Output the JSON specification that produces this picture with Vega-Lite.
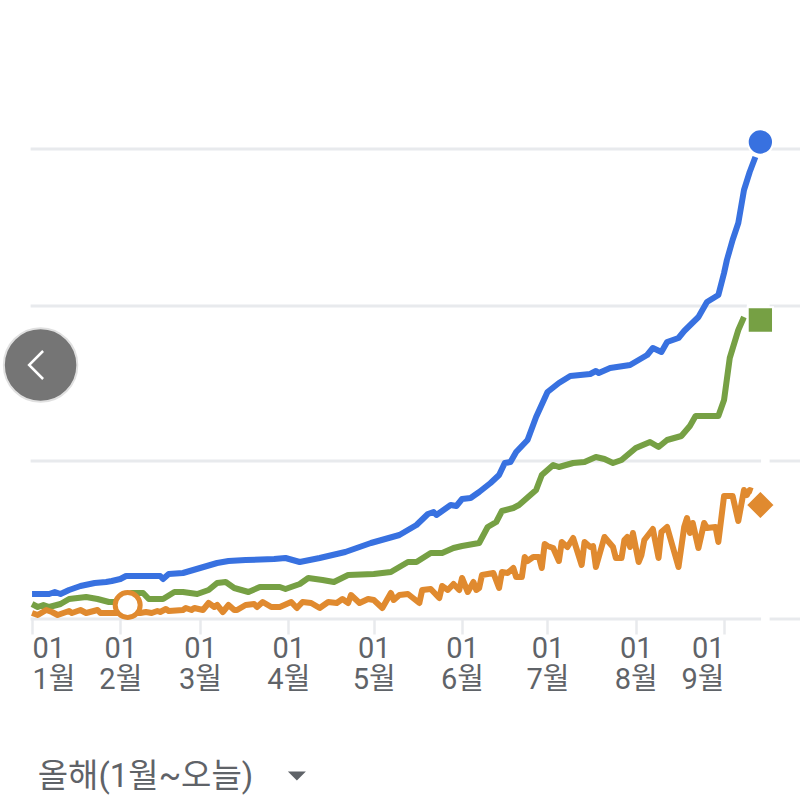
{
  "$schema": "https://vega.github.io/schema/vega-lite/v6.json",
  "width": 800,
  "height": 802,
  "padding": 0,
  "autosize": {"type": "none"},
  "background": "white",
  "view": {"stroke": null},
  "datasets": {
    "grid": [
      {"date": "2020-12-31T12:00:00Z", "date2": "2021-09-14", "v": 0},
      {"date": "2021-09-17", "date2": "2021-09-27T16:00:00Z", "v": 0},
      {"date": "2020-12-31T12:00:00Z", "date2": "2021-09-14", "v": 158},
      {"date": "2021-09-17", "date2": "2021-09-27T16:00:00Z", "v": 158},
      {"date": "2020-12-31T12:00:00Z", "date2": "2021-09-09", "v": 313},
      {"date": "2021-09-17", "date2": "2021-09-27T16:00:00Z", "v": 313},
      {"date": "2020-12-31T12:00:00Z", "date2": "2021-09-27T16:00:00Z", "v": 470}
    ],
    "lines": [
      {"series": "A", "date": "2021-01-01", "v": 25},
      {"series": "A", "date": "2021-01-07", "v": 25},
      {"series": "A", "date": "2021-01-09", "v": 27},
      {"series": "A", "date": "2021-01-11", "v": 25},
      {"series": "A", "date": "2021-01-14", "v": 29},
      {"series": "A", "date": "2021-01-18", "v": 33},
      {"series": "A", "date": "2021-01-23", "v": 36},
      {"series": "A", "date": "2021-01-27", "v": 37},
      {"series": "A", "date": "2021-01-29", "v": 38},
      {"series": "A", "date": "2021-02-01", "v": 40},
      {"series": "A", "date": "2021-02-03", "v": 43},
      {"series": "A", "date": "2021-02-15", "v": 43},
      {"series": "A", "date": "2021-02-16", "v": 40},
      {"series": "A", "date": "2021-02-18", "v": 45},
      {"series": "A", "date": "2021-02-23", "v": 46},
      {"series": "A", "date": "2021-03-01", "v": 51},
      {"series": "A", "date": "2021-03-07", "v": 56},
      {"series": "A", "date": "2021-03-11", "v": 58},
      {"series": "A", "date": "2021-03-17", "v": 59},
      {"series": "A", "date": "2021-03-27", "v": 60},
      {"series": "A", "date": "2021-03-31", "v": 61},
      {"series": "A", "date": "2021-04-05", "v": 57},
      {"series": "A", "date": "2021-04-12", "v": 61},
      {"series": "A", "date": "2021-04-21", "v": 67},
      {"series": "A", "date": "2021-04-30", "v": 76},
      {"series": "A", "date": "2021-05-10", "v": 84},
      {"series": "A", "date": "2021-05-16", "v": 94},
      {"series": "A", "date": "2021-05-20", "v": 105},
      {"series": "A", "date": "2021-05-22", "v": 107},
      {"series": "A", "date": "2021-05-23", "v": 104},
      {"series": "A", "date": "2021-05-28", "v": 114},
      {"series": "A", "date": "2021-05-30", "v": 113},
      {"series": "A", "date": "2021-06-01", "v": 120},
      {"series": "A", "date": "2021-06-04", "v": 121},
      {"series": "A", "date": "2021-06-07", "v": 127},
      {"series": "A", "date": "2021-06-11", "v": 136},
      {"series": "A", "date": "2021-06-14", "v": 144},
      {"series": "A", "date": "2021-06-16", "v": 156},
      {"series": "A", "date": "2021-06-18", "v": 157},
      {"series": "A", "date": "2021-06-20", "v": 167},
      {"series": "A", "date": "2021-06-24", "v": 179},
      {"series": "A", "date": "2021-06-27", "v": 202},
      {"series": "A", "date": "2021-07-01", "v": 227},
      {"series": "A", "date": "2021-07-05", "v": 236},
      {"series": "A", "date": "2021-07-09", "v": 243},
      {"series": "A", "date": "2021-07-16", "v": 245},
      {"series": "A", "date": "2021-07-18", "v": 248},
      {"series": "A", "date": "2021-07-19", "v": 246},
      {"series": "A", "date": "2021-07-23", "v": 251},
      {"series": "A", "date": "2021-07-30", "v": 254},
      {"series": "A", "date": "2021-08-05", "v": 264},
      {"series": "A", "date": "2021-08-07", "v": 271},
      {"series": "A", "date": "2021-08-10", "v": 267},
      {"series": "A", "date": "2021-08-12", "v": 277},
      {"series": "A", "date": "2021-08-16", "v": 281},
      {"series": "A", "date": "2021-08-18", "v": 288},
      {"series": "A", "date": "2021-08-23", "v": 302},
      {"series": "A", "date": "2021-08-26", "v": 317},
      {"series": "A", "date": "2021-08-30", "v": 324},
      {"series": "A", "date": "2021-09-01", "v": 346},
      {"series": "A", "date": "2021-09-02", "v": 359},
      {"series": "A", "date": "2021-09-04", "v": 379},
      {"series": "A", "date": "2021-09-06", "v": 396},
      {"series": "A", "date": "2021-09-08", "v": 429},
      {"series": "A", "date": "2021-09-10", "v": 447},
      {"series": "A", "date": "2021-09-12", "v": 462},
      {"series": "B", "date": "2021-01-01", "v": 15},
      {"series": "B", "date": "2021-01-03", "v": 12},
      {"series": "B", "date": "2021-01-05", "v": 14},
      {"series": "B", "date": "2021-01-07", "v": 12},
      {"series": "B", "date": "2021-01-11", "v": 15},
      {"series": "B", "date": "2021-01-14", "v": 20},
      {"series": "B", "date": "2021-01-20", "v": 22},
      {"series": "B", "date": "2021-01-24", "v": 20},
      {"series": "B", "date": "2021-01-28", "v": 17},
      {"series": "B", "date": "2021-01-30", "v": 17},
      {"series": "B", "date": "2021-02-02", "v": 22},
      {"series": "B", "date": "2021-02-05", "v": 26},
      {"series": "B", "date": "2021-02-09", "v": 26},
      {"series": "B", "date": "2021-02-11", "v": 20},
      {"series": "B", "date": "2021-02-16", "v": 20},
      {"series": "B", "date": "2021-02-20", "v": 27},
      {"series": "B", "date": "2021-02-23", "v": 27},
      {"series": "B", "date": "2021-02-28", "v": 25},
      {"series": "B", "date": "2021-03-04", "v": 29},
      {"series": "B", "date": "2021-03-07", "v": 36},
      {"series": "B", "date": "2021-03-10", "v": 37},
      {"series": "B", "date": "2021-03-13", "v": 31},
      {"series": "B", "date": "2021-03-18", "v": 27},
      {"series": "B", "date": "2021-03-22", "v": 32},
      {"series": "B", "date": "2021-03-29", "v": 32},
      {"series": "B", "date": "2021-03-31", "v": 30},
      {"series": "B", "date": "2021-04-05", "v": 35},
      {"series": "B", "date": "2021-04-08", "v": 41},
      {"series": "B", "date": "2021-04-13", "v": 39},
      {"series": "B", "date": "2021-04-17", "v": 37},
      {"series": "B", "date": "2021-04-22", "v": 44},
      {"series": "B", "date": "2021-05-01", "v": 45},
      {"series": "B", "date": "2021-05-07", "v": 47},
      {"series": "B", "date": "2021-05-10", "v": 52},
      {"series": "B", "date": "2021-05-13", "v": 57},
      {"series": "B", "date": "2021-05-16", "v": 57},
      {"series": "B", "date": "2021-05-21", "v": 66},
      {"series": "B", "date": "2021-05-25", "v": 66},
      {"series": "B", "date": "2021-05-29", "v": 71},
      {"series": "B", "date": "2021-06-01", "v": 73},
      {"series": "B", "date": "2021-06-07", "v": 76},
      {"series": "B", "date": "2021-06-10", "v": 92},
      {"series": "B", "date": "2021-06-13", "v": 97},
      {"series": "B", "date": "2021-06-15", "v": 108},
      {"series": "B", "date": "2021-06-19", "v": 111},
      {"series": "B", "date": "2021-06-21", "v": 114},
      {"series": "B", "date": "2021-06-27", "v": 129},
      {"series": "B", "date": "2021-06-29", "v": 144},
      {"series": "B", "date": "2021-07-03", "v": 154},
      {"series": "B", "date": "2021-07-05", "v": 152},
      {"series": "B", "date": "2021-07-10", "v": 156},
      {"series": "B", "date": "2021-07-14", "v": 157},
      {"series": "B", "date": "2021-07-18", "v": 162},
      {"series": "B", "date": "2021-07-21", "v": 160},
      {"series": "B", "date": "2021-07-24", "v": 156},
      {"series": "B", "date": "2021-07-27", "v": 159},
      {"series": "B", "date": "2021-08-01", "v": 171},
      {"series": "B", "date": "2021-08-06", "v": 177},
      {"series": "B", "date": "2021-08-09", "v": 172},
      {"series": "B", "date": "2021-08-12", "v": 179},
      {"series": "B", "date": "2021-08-17", "v": 183},
      {"series": "B", "date": "2021-08-20", "v": 193},
      {"series": "B", "date": "2021-08-22", "v": 203},
      {"series": "B", "date": "2021-08-30", "v": 203},
      {"series": "B", "date": "2021-09-01", "v": 219},
      {"series": "B", "date": "2021-09-03", "v": 261},
      {"series": "B", "date": "2021-09-06", "v": 289},
      {"series": "B", "date": "2021-09-08", "v": 302},
      {"series": "C", "date": "2021-01-01", "v": 6},
      {"series": "C", "date": "2021-01-03", "v": 4},
      {"series": "C", "date": "2021-01-06", "v": 9},
      {"series": "C", "date": "2021-01-08", "v": 7},
      {"series": "C", "date": "2021-01-10", "v": 4},
      {"series": "C", "date": "2021-01-14", "v": 8},
      {"series": "C", "date": "2021-01-15", "v": 6},
      {"series": "C", "date": "2021-01-18", "v": 9},
      {"series": "C", "date": "2021-01-20", "v": 6},
      {"series": "C", "date": "2021-01-24", "v": 9},
      {"series": "C", "date": "2021-01-25", "v": 6},
      {"series": "C", "date": "2021-01-30", "v": 6},
      {"series": "C", "date": "2021-02-08", "v": 6},
      {"series": "C", "date": "2021-02-10", "v": 7},
      {"series": "C", "date": "2021-02-12", "v": 6},
      {"series": "C", "date": "2021-02-14", "v": 8},
      {"series": "C", "date": "2021-02-15", "v": 7},
      {"series": "C", "date": "2021-02-17", "v": 10},
      {"series": "C", "date": "2021-02-18", "v": 8},
      {"series": "C", "date": "2021-02-23", "v": 9},
      {"series": "C", "date": "2021-02-24", "v": 11},
      {"series": "C", "date": "2021-02-26", "v": 9},
      {"series": "C", "date": "2021-02-27", "v": 11},
      {"series": "C", "date": "2021-03-02", "v": 9},
      {"series": "C", "date": "2021-03-04", "v": 16},
      {"series": "C", "date": "2021-03-06", "v": 12},
      {"series": "C", "date": "2021-03-07", "v": 14},
      {"series": "C", "date": "2021-03-09", "v": 7},
      {"series": "C", "date": "2021-03-11", "v": 14},
      {"series": "C", "date": "2021-03-13", "v": 9},
      {"series": "C", "date": "2021-03-14", "v": 9},
      {"series": "C", "date": "2021-03-17", "v": 14},
      {"series": "C", "date": "2021-03-20", "v": 15},
      {"series": "C", "date": "2021-03-21", "v": 12},
      {"series": "C", "date": "2021-03-23", "v": 17},
      {"series": "C", "date": "2021-03-26", "v": 12},
      {"series": "C", "date": "2021-03-29", "v": 12},
      {"series": "C", "date": "2021-04-02", "v": 17},
      {"series": "C", "date": "2021-04-04", "v": 11},
      {"series": "C", "date": "2021-04-06", "v": 17},
      {"series": "C", "date": "2021-04-09", "v": 16},
      {"series": "C", "date": "2021-04-12", "v": 11},
      {"series": "C", "date": "2021-04-15", "v": 17},
      {"series": "C", "date": "2021-04-18", "v": 16},
      {"series": "C", "date": "2021-04-20", "v": 20},
      {"series": "C", "date": "2021-04-22", "v": 16},
      {"series": "C", "date": "2021-04-23", "v": 24},
      {"series": "C", "date": "2021-04-26", "v": 16},
      {"series": "C", "date": "2021-04-29", "v": 20},
      {"series": "C", "date": "2021-05-01", "v": 19},
      {"series": "C", "date": "2021-05-04", "v": 11},
      {"series": "C", "date": "2021-05-07", "v": 26},
      {"series": "C", "date": "2021-05-08", "v": 19},
      {"series": "C", "date": "2021-05-10", "v": 24},
      {"series": "C", "date": "2021-05-13", "v": 25},
      {"series": "C", "date": "2021-05-17", "v": 16},
      {"series": "C", "date": "2021-05-18", "v": 29},
      {"series": "C", "date": "2021-05-21", "v": 30},
      {"series": "C", "date": "2021-05-24", "v": 21},
      {"series": "C", "date": "2021-05-25", "v": 33},
      {"series": "C", "date": "2021-05-27", "v": 29},
      {"series": "C", "date": "2021-05-29", "v": 35},
      {"series": "C", "date": "2021-05-31", "v": 29},
      {"series": "C", "date": "2021-06-01", "v": 41},
      {"series": "C", "date": "2021-06-03", "v": 27},
      {"series": "C", "date": "2021-06-05", "v": 37},
      {"series": "C", "date": "2021-06-06", "v": 29},
      {"series": "C", "date": "2021-06-07", "v": 31},
      {"series": "C", "date": "2021-06-08", "v": 44},
      {"series": "C", "date": "2021-06-12", "v": 46},
      {"series": "C", "date": "2021-06-14", "v": 31},
      {"series": "C", "date": "2021-06-15", "v": 47},
      {"series": "C", "date": "2021-06-17", "v": 46},
      {"series": "C", "date": "2021-06-19", "v": 51},
      {"series": "C", "date": "2021-06-20", "v": 42},
      {"series": "C", "date": "2021-06-22", "v": 42},
      {"series": "C", "date": "2021-06-23", "v": 62},
      {"series": "C", "date": "2021-06-24", "v": 58},
      {"series": "C", "date": "2021-06-26", "v": 62},
      {"series": "C", "date": "2021-06-28", "v": 62},
      {"series": "C", "date": "2021-06-29", "v": 51},
      {"series": "C", "date": "2021-06-30", "v": 75},
      {"series": "C", "date": "2021-07-01", "v": 73},
      {"series": "C", "date": "2021-07-03", "v": 71},
      {"series": "C", "date": "2021-07-05", "v": 58},
      {"series": "C", "date": "2021-07-06", "v": 77},
      {"series": "C", "date": "2021-07-08", "v": 72},
      {"series": "C", "date": "2021-07-10", "v": 81},
      {"series": "C", "date": "2021-07-13", "v": 54},
      {"series": "C", "date": "2021-07-14", "v": 77},
      {"series": "C", "date": "2021-07-16", "v": 72},
      {"series": "C", "date": "2021-07-17", "v": 73},
      {"series": "C", "date": "2021-07-18", "v": 52},
      {"series": "C", "date": "2021-07-21", "v": 82},
      {"series": "C", "date": "2021-07-24", "v": 72},
      {"series": "C", "date": "2021-07-25", "v": 61},
      {"series": "C", "date": "2021-07-27", "v": 61},
      {"series": "C", "date": "2021-07-28", "v": 79},
      {"series": "C", "date": "2021-07-29", "v": 82},
      {"series": "C", "date": "2021-07-30", "v": 72},
      {"series": "C", "date": "2021-07-31", "v": 86},
      {"series": "C", "date": "2021-08-02", "v": 57},
      {"series": "C", "date": "2021-08-03", "v": 64},
      {"series": "C", "date": "2021-08-04", "v": 79},
      {"series": "C", "date": "2021-08-07", "v": 90},
      {"series": "C", "date": "2021-08-09", "v": 61},
      {"series": "C", "date": "2021-08-10", "v": 87},
      {"series": "C", "date": "2021-08-12", "v": 92},
      {"series": "C", "date": "2021-08-16", "v": 52},
      {"series": "C", "date": "2021-08-18", "v": 92},
      {"series": "C", "date": "2021-08-19", "v": 101},
      {"series": "C", "date": "2021-08-20", "v": 86},
      {"series": "C", "date": "2021-08-21", "v": 96},
      {"series": "C", "date": "2021-08-23", "v": 71},
      {"series": "C", "date": "2021-08-25", "v": 96},
      {"series": "C", "date": "2021-08-26", "v": 91},
      {"series": "C", "date": "2021-08-29", "v": 92},
      {"series": "C", "date": "2021-08-30", "v": 77},
      {"series": "C", "date": "2021-09-01", "v": 123},
      {"series": "C", "date": "2021-09-04", "v": 123},
      {"series": "C", "date": "2021-09-06", "v": 98},
      {"series": "C", "date": "2021-09-08", "v": 129},
      {"series": "C", "date": "2021-09-09", "v": 124},
      {"series": "C", "date": "2021-09-10", "v": 129},
      {"series": "C", "date": "2021-09-11", "v": 128}
    ]
  },
  "encoding": {
    "x": {
      "field": "date",
      "type": "temporal",
      "title": null,
      "scale": {"type": "utc", "domain": ["2020-12-20T18:00:00Z", "2021-09-27T16:00:00Z"], "nice": false},
      "axis": {
        "orient": "bottom",
        "offset": -183,
        "values": ["2021-01-01", "2021-02-01", "2021-03-01", "2021-04-01", "2021-05-01", "2021-06-01", "2021-07-01", "2021-08-01", "2021-09-01"],
        "labelExpr": "[utcFormat(datum.value, '%d'), (utcmonth(datum.value) + 1) + '월']",
        "labelAlign": {
          "condition": [
            {"test": "utcmonth(datum.value) === 0", "value": "left"},
            {"test": "utcmonth(datum.value) === 8", "value": "right"}
          ],
          "value": "center"
        },
        "labelFont": "Roboto, 'Noto Sans CJK KR'",
        "labelFontSize": 29,
        "labelLineHeight": 31,
        "labelColor": "#5f6368",
        "labelPadding": 0,
        "labelOverlap": false,
        "labelFlush": false,
        "domain": false,
        "grid": false,
        "ticks": true,
        "tickColor": "#e8eaed",
        "tickWidth": 2.5,
        "tickSize": 15
      }
    },
    "y": {
      "field": "v",
      "type": "quantitative",
      "scale": {"domain": [-183, 619], "nice": false, "zero": false},
      "axis": null
    }
  },
  "layer": [
    {
      "data": {"name": "grid"},
      "mark": {"type": "rule", "color": "#e8eaed", "strokeWidth": 3},
      "encoding": {"x2": {"field": "date2"}}
    },
    {
      "data": {"name": "lines"},
      "mark": {"type": "line", "strokeWidth": 6, "strokeJoin": "round"},
      "encoding": {
        "color": {
          "field": "series",
          "type": "nominal",
          "scale": {"domain": ["A", "B", "C"], "range": ["#3871e0", "#76a044", "#e08a2f"]},
          "legend": null
        },
        "order": {"field": "date", "type": "temporal"}
      }
    },
    {
      "data": {"values": [{"date": "2021-09-13T18:00:00Z", "v": 477}]},
      "mark": {"type": "point", "shape": "circle", "filled": true, "fill": "#3871e0", "stroke": "white", "strokeWidth": 2, "size": 640, "opacity": 1}
    },
    {
      "data": {"values": [{"date": "2021-09-13T18:00:00Z", "v": 299}]},
      "mark": {"type": "point", "shape": "square", "filled": true, "fill": "#76a044", "stroke": "white", "strokeWidth": 2, "size": 640, "opacity": 1}
    },
    {
      "data": {"values": [{"date": "2021-09-13T18:00:00Z", "v": 114}]},
      "mark": {"type": "point", "shape": "M0,-1L1,0L0,1L-1,0Z", "filled": true, "fill": "#e08a2f", "stroke": "white", "strokeWidth": 2, "size": 841, "opacity": 1}
    },
    {
      "data": {"values": [{"date": "2021-02-03T14:00:00Z", "v": 14}]},
      "mark": {"type": "point", "shape": "circle", "filled": true, "fill": "white", "stroke": "#e08a2f", "strokeWidth": 5, "size": 625, "opacity": 1}
    },
    {
      "data": {"values": [{"date": "2021-01-04", "v": 254}]},
      "mark": {"type": "point", "shape": "circle", "filled": true, "fill": "#757575", "stroke": "#e0e0e0", "strokeWidth": 2, "size": 5400, "opacity": 1}
    },
    {
      "data": {"values": [{"date": "2021-01-04", "v": 254}]},
      "mark": {"type": "point", "shape": "M0.18,-1L-0.82,0L0.18,1", "filled": false, "stroke": "white", "strokeWidth": 2.5, "size": 784, "opacity": 1}
    },
    {
      "data": {"values": [{"date": "2021-01-03", "v": -158, "label": "올해(1월~오늘)"}]},
      "mark": {"type": "text", "align": "left", "baseline": "middle", "font": "Roboto, 'Noto Sans CJK KR'", "fontSize": 33, "color": "#5f6368"},
      "encoding": {"text": {"field": "label"}}
    },
    {
      "data": {"values": [{"date": "2021-04-04", "v": -157}]},
      "mark": {"type": "point", "shape": "M-1,-0.5L1,-0.5L0,0.5Z", "filled": true, "fill": "#5f6368", "strokeWidth": 0, "size": 324, "opacity": 1}
    }
  ]
}
